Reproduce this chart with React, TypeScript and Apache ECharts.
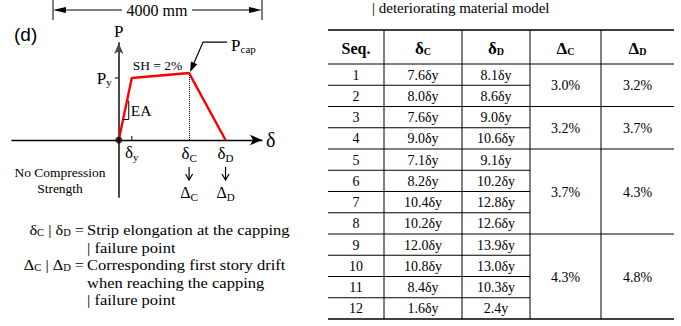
import { useEffect, useRef } from 'react';
import * as echarts from 'echarts';

const SERIF = '"Liberation Serif", "Times New Roman", serif';
const SANS = '"Liberation Sans", Arial, sans-serif';

// Backbone of the strip material model: δ in units of δy, P in units of Py
const backboneDelta = [0, 1, 5.4, 8.2];
const backboneLoad = [0, 1, 1.08, 0];
const DELTA_Y = backboneDelta[1];
const DELTA_C = backboneDelta[2];
const DELTA_D = backboneDelta[3];
const P_Y = backboneLoad[1];
const P_CAP = backboneLoad[2];

// Capping / failure points of each sequence
const seqNumbers = ['1', '2', '3', '4', '5', '6', '7', '8', '9', '10', '11', '12'];
const elongationC = ['7.6δy', '8.0δy', '7.6δy', '9.0δy', '7.1δy', '8.2δy', '10.4δy', '10.2δy', '12.0δy', '10.8δy', '8.4δy', '1.6δy'];
const elongationD = ['8.1δy', '8.6δy', '9.0δy', '10.6δy', '9.1δy', '10.2δy', '12.8δy', '12.6δy', '13.9δy', '13.0δy', '10.3δy', '2.4y'];
const driftRowsPerGroup = [2, 2, 4, 4];
const driftC = ['3.0%', '3.2%', '3.7%', '4.3%'];
const driftD = ['3.2%', '3.7%', '4.3%', '4.8%'];
const tableHeaders = ['{h|Seq.}', '{b|δ}{bs|C}', '{b|δ}{bs|D}', '{b|Δ}{bs|C}', '{b|Δ}{bs|D}'];

// Notation notes under the diagram
const noteSymbols = ['{d|δ}{s|C} | {d|δ}{s|D} =', '', '{d|Δ}{s|C} | {d|Δ}{s|D} =', '', ''];
const noteLines = [
  'Strip elongation at the capping',
  '| failure point',
  'Corresponding first story drift',
  'when reaching the capping',
  '| failure point',
];

// table layout
const colX = [328, 384, 462, 530, 601, 674];
const headTop = 30;
const headBottom = 64;
const rowH = 21.25;

const black = '#000';

const subRich = (size: number, sub: number, shift: number, lh?: number) => ({
  d: { fontSize: size, fontFamily: SERIF, color: black, fill: black, lineHeight: lh },
  s: { fontSize: sub, fontFamily: SERIF, color: black, fill: black, padding: [shift, 0, 0, 0] },
});

function text(x: number, y: number, t: string, opts: any = {}) {
  const align = opts.align || 'left';
  return {
    type: 'text',
    x,
    y,
    scaleX: opts.scaleX || 1,
    silent: true,
    z: 10,
    style: {
      text: t,
      fill: black,
      fontFamily: opts.family || SERIF,
      fontSize: opts.size || 15,
      fontWeight: opts.weight || 'normal',
      lineHeight: opts.lineHeight,
      align,
      textAlign: align,
      verticalAlign: opts.vAlign || 'middle',
      textVerticalAlign: opts.vAlign || 'middle',
      rich: opts.rich,
    },
  };
}

function seg(x1: number, y1: number, x2: number, y2: number, w = 1) {
  return {
    type: 'line',
    silent: true,
    z: 10,
    shape: { x1, y1, x2, y2 },
    style: { stroke: black, lineWidth: w },
  };
}

function poly(points: number[][], w = 1) {
  return {
    type: 'polyline',
    silent: true,
    z: 10,
    shape: { points },
    style: { stroke: black, lineWidth: w, fill: null },
  };
}

function arrowHead(tipX: number, tipY: number, fromX: number, fromY: number, len: number, half: number) {
  const dx = tipX - fromX;
  const dy = tipY - fromY;
  const n = Math.hypot(dx, dy);
  const ux = dx / n;
  const uy = dy / n;
  const bx = tipX - ux * len;
  const by = tipY - uy * len;
  return {
    type: 'polygon',
    silent: true,
    z: 10,
    shape: {
      points: [
        [tipX, tipY],
        [bx - uy * half, by + ux * half],
        [bx + uy * half, by - ux * half],
      ],
    },
    style: { fill: black },
  };
}

function tableGraphics() {
  const out: any[] = [];
  const bottom = headBottom + rowH * seqNumbers.length;
  out.push(seg(colX[0], headTop, colX[5], headTop, 1.4));
  out.push(seg(colX[0], headBottom, colX[5], headBottom, 1.2));
  out.push(seg(colX[0], bottom, colX[5], bottom, 1.4));
  const groupEnds: number[] = [];
  driftRowsPerGroup.reduce((acc, n) => {
    groupEnds.push(acc + n);
    return acc + n;
  }, 0);
  for (let k = 1; k < seqNumbers.length; k++) {
    const y = headBottom + k * rowH;
    const full = groupEnds.includes(k);
    out.push(seg(colX[0], y, full ? colX[5] : colX[3], y, 1));
  }
  for (let c = 1; c <= 4; c++) out.push(seg(colX[c], headTop, colX[c], bottom, 1));

  const headRich = {
    h: { fontSize: 16, fontWeight: 'bold', fontFamily: SERIF, color: black, fill: black },
    b: { fontSize: 17, fontWeight: 'bold', fontFamily: SERIF, color: black, fill: black },
    bs: { fontSize: 10, fontWeight: 'bold', fontFamily: SERIF, color: black, fill: black, padding: [6, 0, 0, 0] },
  };
  tableHeaders.forEach((h, c) => {
    out.push(text((colX[c] + colX[c + 1]) / 2, (headTop + headBottom) / 2 + 1, h, { align: 'center', rich: headRich }));
  });
  seqNumbers.forEach((s, i) => {
    const y = headBottom + rowH * (i + 0.5) + 0.5;
    out.push(text((colX[0] + colX[1]) / 2, y, s, { align: 'center', size: 14 }));
    out.push(text((colX[1] + colX[2]) / 2, y, elongationC[i], { align: 'center', size: 14 }));
    out.push(text((colX[2] + colX[3]) / 2, y, elongationD[i], { align: 'center', size: 14 }));
  });
  let start = 0;
  driftRowsPerGroup.forEach((n, g) => {
    const y = headBottom + rowH * (start + n / 2) + 0.5;
    out.push(text((colX[3] + colX[4]) / 2, y, driftC[g], { align: 'center', size: 14 }));
    out.push(text((colX[4] + colX[5]) / 2, y, driftD[g], { align: 'center', size: 14 }));
    start += n;
  });
  out.push(text(372, 8, '| deteriorating material model', { size: 15 }));
  return out;
}

function noteGraphics() {
  const fs = 15.5;
  const r = subRich(fs, 10, 5, 16);
  const out: any[] = [];
  noteLines.forEach((line, i) => {
    const y = 230 + i * 17.5;
    if (noteSymbols[i]) out.push(text(84, y, noteSymbols[i], { align: 'right', size: fs, lineHeight: 16, rich: r, scaleX: 1.05 }));
    out.push(text(87, y, line, { size: fs, lineHeight: 16, scaleX: 1.065 }));
  });
  out.push(
    text(60, 172, 'No Compression', { align: 'center', size: 13.5 }),
    text(60, 188, 'Strength', { align: 'center', size: 13.5 }),
    text(14, 34, '(d)', { family: SANS, size: 19 }),
    // 4000 mm dimension line
    seg(53, 0, 53, 20, 1),
    seg(262, 0, 262, 20, 1),
    seg(60, 10, 122, 10, 1.2),
    seg(192, 10, 255, 10, 1.2),
    arrowHead(53, 10, 66, 10, 13, 3),
    arrowHead(262, 10, 249, 10, 13, 3),
    text(157, 10, '4000 mm', { align: 'center', size: 16 }),
  );
  return out;
}

function diagramGraphics(px: (v: number[]) => number[]) {
  const O = px([0, 0]);
  const Y = px([DELTA_Y, P_Y]);
  const C = px([DELTA_C, P_CAP]);
  const D = px([DELTA_D, 0]);
  const f = 0.33;
  const footX = O[0] + f * (Y[0] - O[0]);
  const footY = O[1] + f * (Y[1] - O[1]);
  const bendX = C[0] + 14;
  const bendY = C[1] - 31;
  const axisRich = subRich(17, 11, 8);
  const out: any[] = [
    // Py tick and label on the P axis, δy tick on the δ axis
    seg(O[0] - 4, Y[1], O[0], Y[1], 1),
    text(O[0] - 7, Y[1], '{d|P}{s|y}', { align: 'right', rich: axisRich }),
    seg(Y[0], O[1], Y[0], O[1] - 4, 1),
    text(Y[0], O[1] + 13, '{d|δ}{s|y}', { align: 'center', rich: axisRich }),
    text((Y[0] + C[0]) / 2 - 3, (Y[1] + C[1]) / 2 - 10, 'SH = 2%', { align: 'center', size: 13.5 }),
    poly([[C[0] + 38, bendY], [bendX, bendY], [C[0] + 4, C[1] - 8]], 1.2),
    arrowHead(C[0] + 1, C[1] - 1, bendX, bendY, 10, 3.5),
    text(C[0] + 42, C[1] - 28, '{d|P}{s|cap}', { rich: subRich(17, 11, 8) }),
    poly([[footX, footY], [O[0] + 10, footY], [O[0] + 10, footY - 19]], 1),
    text(O[0] + 12, O[1] - 29, 'EA', { size: 15.5 }),
  ];
  // capping and failure points: δ label, arrow, corresponding drift Δ
  [
    [C[0], 'C'],
    [D[0], 'D'],
  ].forEach(([x, k]: any) => {
    out.push(text(x, O[1] + 14, `{d|δ}{s|${k}}`, { align: 'center', rich: axisRich }));
    out.push(seg(x, O[1] + 27, x, O[1] + 40, 1.2));
    out.push(poly([[x - 3.5, O[1] + 34], [x, O[1] + 40], [x + 3.5, O[1] + 34]], 1.2));
    out.push(text(x, O[1] + 53, `{d|Δ}{s|${k}}`, { align: 'center', rich: subRich(16, 11, 8) }));
  });
  return out;
}

const baseOption: any = {
  animation: false,
  backgroundColor: '#fff',
  grid: { left: 12, top: 43, width: 250, height: 154, containLabel: false, outerBoundsMode: 'none' },
  xAxis: {
    type: 'value',
    min: -8.2,
    max: 11,
    name: 'δ',
    nameLocation: 'end',
    nameGap: 4,
    nameTextStyle: { fontFamily: SERIF, fontSize: 20, color: black },
    splitLine: { show: false },
    axisLine: {
      onZero: true,
      symbol: ['none', 'arrow'],
      symbolSize: [8, 12],
      lineStyle: { color: black, width: 1.4 },
    },
    axisTick: { show: false },
    axisLabel: { show: false },
  },
  yAxis: {
    type: 'value',
    min: -0.92,
    max: 1.565,
    name: 'P',
    nameLocation: 'end',
    nameGap: 3,
    nameTextStyle: { fontFamily: SERIF, fontSize: 17, color: black },
    splitLine: { show: false },
    axisLine: {
      onZero: true,
      symbol: ['none', 'arrow'],
      symbolSize: [7, 11],
      lineStyle: { color: '#4a4a4a', width: 2 },
    },
    axisTick: { show: false },
    axisLabel: { show: false },
  },
  series: [
    {
      type: 'line',
      data: backboneDelta.map((d, i) => [d, backboneLoad[i]]),
      symbol: 'none',
      lineStyle: { color: '#ff0000', width: 2.4 },
      z: 3,
      clip: false,
      markLine: {
        silent: true,
        symbol: ['none', 'none'],
        label: { show: false },
        lineStyle: { type: 'dotted', color: black, width: 1 },
        data: [[{ coord: [DELTA_C, 0] }, { coord: [DELTA_C, P_CAP] }]],
      },
    },
    {
      type: 'scatter',
      data: [[0, 0]],
      symbolSize: 7,
      itemStyle: { color: black },
      z: 4,
    },
  ],
};

export default function App() {
  const ref = useRef<HTMLDivElement>(null);
  useEffect(() => {
    const el = ref.current;
    if (!el) return;
    const chart = echarts.init(el, undefined, { renderer: 'svg' });
    chart.setOption(baseOption);
    const px = (v: number[]) => chart.convertToPixel({ gridIndex: 0 }, v) as unknown as number[];
    chart.setOption({ graphic: [...diagramGraphics(px), ...tableGraphics(), ...noteGraphics()] });
    return () => chart.dispose();
  }, []);
  return <div ref={ref} style={{ position: 'absolute', left: 0, top: 0, width: 681, height: 326 }} />;
}
